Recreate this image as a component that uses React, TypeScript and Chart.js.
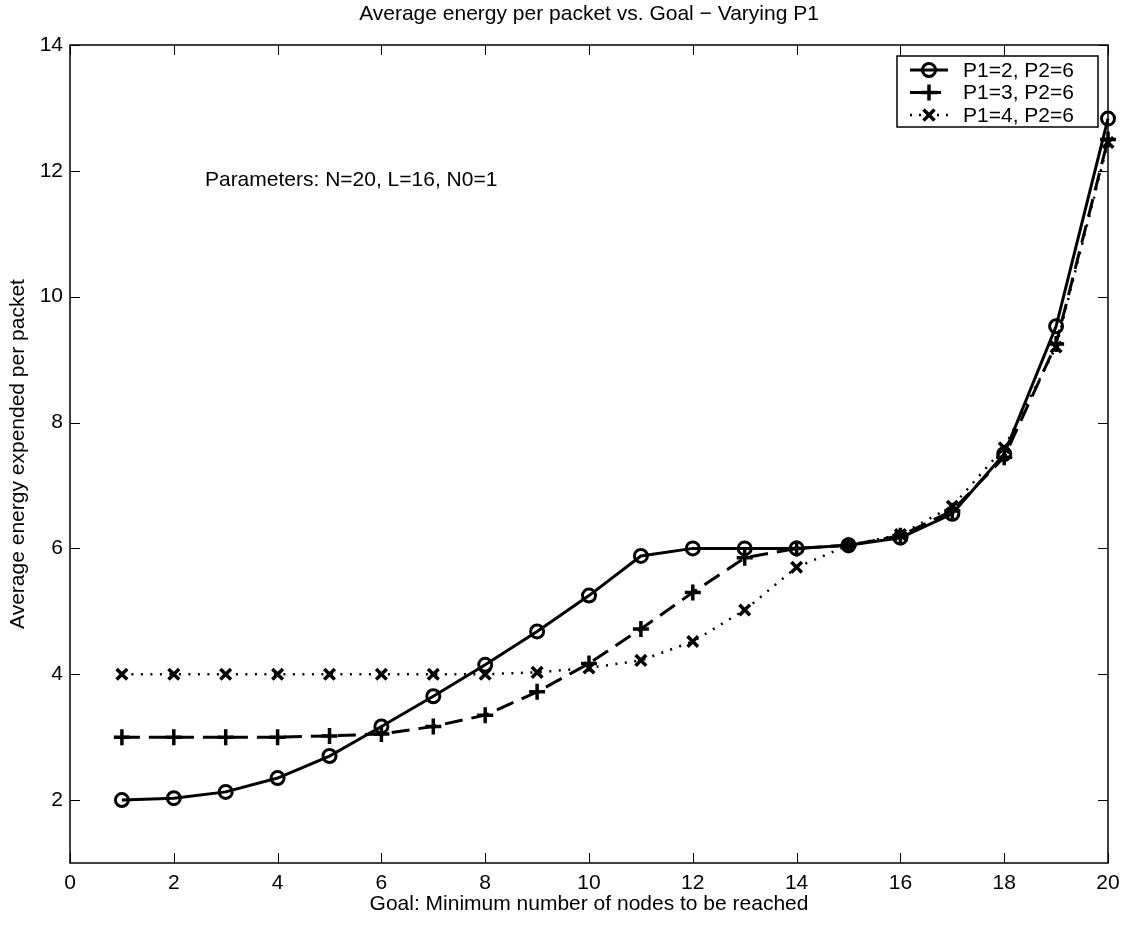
import React, { useEffect, useRef } from "react";
import { Chart, registerables } from "chart.js";

Chart.register(...registerables);

const goals = [1, 2, 3, 4, 5, 6, 7, 8, 9, 10, 11, 12, 13, 14, 15, 16, 17, 18, 19, 20];
const energyP1is2 = [2.0, 2.03, 2.13, 2.35, 2.7, 3.17, 3.65, 4.15, 4.68, 5.25, 5.88, 6.0, 6.0, 6.0, 6.05, 6.17, 6.55, 7.5, 9.53, 12.83];
const energyP1is3 = [3.0, 3.0, 3.0, 3.0, 3.02, 3.05, 3.17, 3.35, 3.72, 4.17, 4.72, 5.3, 5.85, 6.0, 6.05, 6.2, 6.6, 7.45, 9.25, 12.5];
const energyP1is4 = [4.0, 4.0, 4.0, 4.0, 4.0, 4.0, 4.0, 4.0, 4.03, 4.1, 4.22, 4.52, 5.02, 5.7, 6.05, 6.22, 6.67, 7.6, 9.2, 12.45];
const seriesLabels = ["P1=2, P2=6", "P1=3, P2=6", "P1=4, P2=6"];
const xTicks = [0, 2, 4, 6, 8, 10, 12, 14, 16, 18, 20];
const yTicks = [2, 4, 6, 8, 10, 12, 14];
const titleText = "Average energy per packet vs. Goal \u2212 Varying P1";
const xTitle = "Goal: Minimum number of nodes to be reached";
const yTitle = "Average energy expended per packet";
const noteText = "Parameters: N=20, L=16, N0=1";
const notePos = { x: 2.6, y: 11.85 };

const FONT = "'Liberation Sans', Arial, Helvetica, sans-serif";
const FS = 21;

type Marker = "circle" | "plus" | "x";

function drawMarker(ctx: CanvasRenderingContext2D, kind: Marker, x: number, y: number) {
  ctx.save();
  ctx.strokeStyle = "#000";
  ctx.setLineDash([]);
  ctx.beginPath();
  if (kind === "circle") {
    ctx.lineWidth = 3;
    ctx.arc(x, y, 6.5, 0, Math.PI * 2);
  } else if (kind === "plus") {
    ctx.lineWidth = 3.5;
    ctx.moveTo(x - 8, y); ctx.lineTo(x + 8, y);
    ctx.moveTo(x, y - 8); ctx.lineTo(x, y + 8);
  } else {
    ctx.lineWidth = 3.5;
    ctx.moveTo(x - 5.5, y - 5.5); ctx.lineTo(x + 5.5, y + 5.5);
    ctx.moveTo(x + 5.5, y - 5.5); ctx.lineTo(x - 5.5, y + 5.5);
  }
  ctx.stroke();
  ctx.restore();
}

const decorPlugin = {
  id: "decor",
  afterDraw(chart: any) {
    const { ctx, chartArea: a, scales } = chart;
    const xs = scales.x;
    const ys = scales.y;
    ctx.save();
    ctx.strokeStyle = "#000";
    ctx.lineWidth = 1.5;
    ctx.setLineDash([]);
    ctx.strokeRect(a.left, a.top, a.right - a.left, a.bottom - a.top);
    ctx.lineWidth = 1;
    const tl = 10;
    ctx.beginPath();
    xTicks.forEach((v) => {
      const px = Math.round(xs.getPixelForValue(v)) + 0.5;
      ctx.moveTo(px, a.bottom); ctx.lineTo(px, a.bottom - tl);
      ctx.moveTo(px, a.top); ctx.lineTo(px, a.top + tl);
    });
    yTicks.forEach((v) => {
      const py = Math.round(ys.getPixelForValue(v)) + 0.5;
      ctx.moveTo(a.left, py); ctx.lineTo(a.left + tl, py);
      ctx.moveTo(a.right, py); ctx.lineTo(a.right - tl, py);
    });
    ctx.stroke();

    // title
    ctx.fillStyle = "#000";
    ctx.font = `${FS}px ${FONT}`;
    ctx.textAlign = "center";
    ctx.textBaseline = "middle";
    ctx.fillText(titleText, (a.left + a.right) / 2, 14);

    // annotation
    ctx.textAlign = "left";
    ctx.fillText(noteText, xs.getPixelForValue(notePos.x), ys.getPixelForValue(notePos.y));

    // legend
    const bx = 897, by = 56, bw = 201, bh = 71;
    ctx.fillStyle = "#fff";
    ctx.fillRect(bx, by, bw, bh);
    ctx.lineWidth = 1.5;
    ctx.strokeRect(bx, by, bw, bh);
    const kinds: Marker[] = ["circle", "plus", "x"];
    const dashes = [[], [12, 7], [2, 7]];
    const widths = [3, 3, 2.5];
    seriesLabels.forEach((lab, i) => {
      const ly = 70 + i * 22.5;
      ctx.save();
      ctx.lineWidth = widths[i];
      ctx.setLineDash(dashes[i]);
      ctx.beginPath();
      ctx.moveTo(910, ly); ctx.lineTo(948, ly);
      ctx.stroke();
      ctx.restore();
      drawMarker(ctx, kinds[i], 929, ly);
      ctx.fillStyle = "#000";
      ctx.textAlign = "left";
      ctx.fillText(lab, 963, ly + 1);
    });
    ctx.restore();
  },
};

const pointFns: Record<Marker, string> = { circle: "circle", plus: "cross", x: "crossRot" };

function dataset(label: string, values: number[], kind: Marker, dash: number[], width: number) {
  return {
    label,
    data: goals.map((g, i) => ({ x: g, y: values[i] })),
    borderColor: "#000",
    backgroundColor: "rgba(0,0,0,0)",
    borderWidth: width,
    borderDash: dash,
    tension: 0,
    clip: false as any,
    pointStyle: pointFns[kind],
    pointRadius: kind === "circle" ? 6.5 : kind === "plus" ? 8 : 7.5,
    pointBorderWidth: kind === "circle" ? 3 : 3.5,
    pointBorderColor: "#000",
    pointBackgroundColor: "rgba(0,0,0,0)",
  };
}

export default function App() {
  const ref = useRef<HTMLCanvasElement | null>(null);
  useEffect(() => {
    document.body.style.margin = "0";
    const chart = new Chart(ref.current as HTMLCanvasElement, {
      type: "line",
      data: {
        datasets: [
          dataset(seriesLabels[2], energyP1is4, "x", [2, 7.5], 2.5),
          dataset(seriesLabels[1], energyP1is3, "plus", [18, 9], 3),
          dataset(seriesLabels[0], energyP1is2, "circle", [], 3),
        ],
      },
      options: {
        responsive: false,
        animation: false,
        layout: { padding: { top: 45, right: 23, left: 0, bottom: 0 } },
        plugins: { legend: { display: false }, title: { display: false }, tooltip: { enabled: false } },
        scales: {
          x: {
            type: "linear",
            min: 0,
            max: 20,
            grid: { display: false, drawTicks: false },
            border: { display: false },
            afterBuildTicks: (s: any) => { s.ticks = xTicks.map((v) => ({ value: v })); },
            afterFit: (s: any) => { s.height = 64; },
            ticks: { color: "#000", font: { family: FONT, size: FS }, padding: 8, maxRotation: 0, autoSkip: false },
            title: { display: true, text: xTitle, color: "#000", font: { family: FONT, size: FS }, padding: { top: 0, bottom: 10 } },
          },
          y: {
            type: "linear",
            min: 1,
            max: 14,
            grid: { display: false, drawTicks: false },
            border: { display: false },
            afterBuildTicks: (s: any) => { s.ticks = yTicks.map((v) => ({ value: v })); },
            afterFit: (s: any) => { s.width = 70; },
            ticks: { color: "#000", font: { family: FONT, size: FS }, padding: 7, autoSkip: false },
            title: { display: true, text: yTitle, color: "#000", font: { family: FONT, size: FS }, padding: { top: 6, bottom: 0 } },
          },
        },
      },
      plugins: [decorPlugin],
    } as any);
    return () => chart.destroy();
  }, []);
  return (
    <div style={{ position: "absolute", left: 0, top: 0, width: 1131, height: 927, background: "#fff" }}>
      <canvas ref={ref} width={1131} height={927} />
    </div>
  );
}
